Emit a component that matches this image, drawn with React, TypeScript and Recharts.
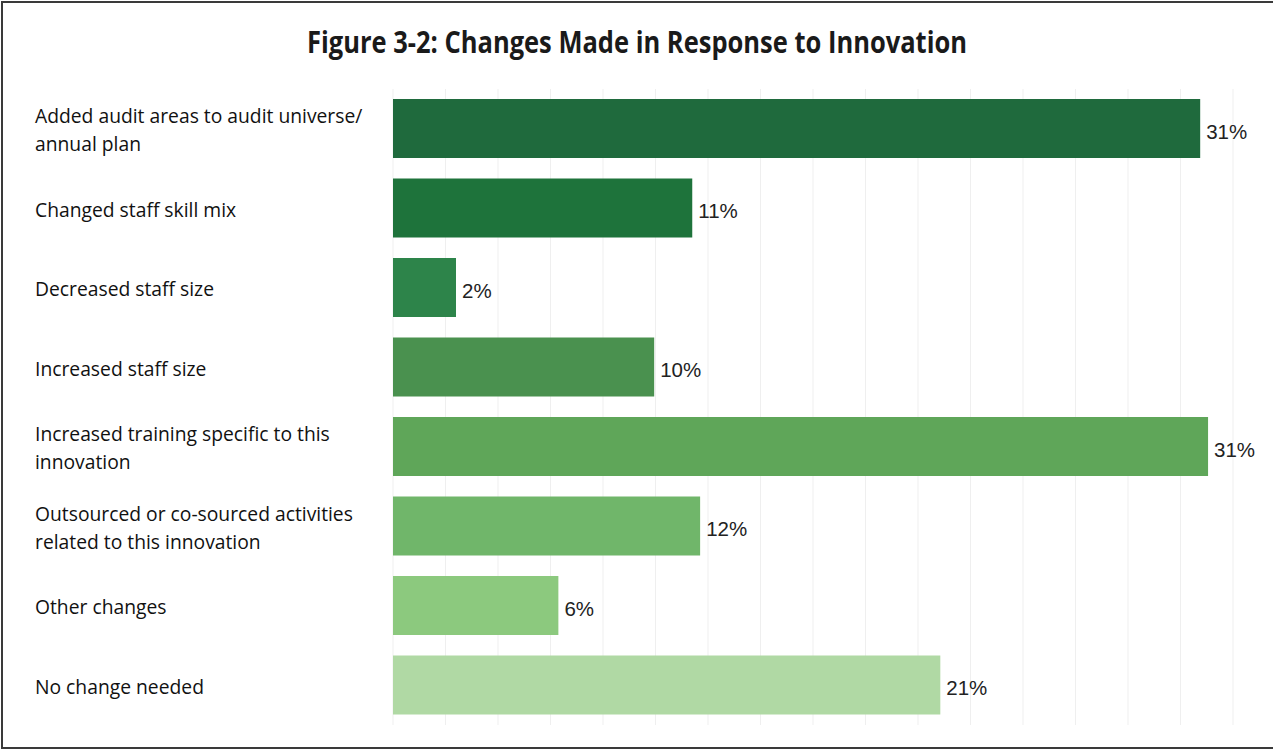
import React from 'react';
import { BarChart, Bar, XAxis, YAxis, CartesianGrid, LabelList, Cell } from 'recharts';

const TITLE = 'Figure 3-2: Changes Made in Response to Innovation';

const categories = [
  'Added audit areas to audit universe/\nannual plan',
  'Changed staff skill mix',
  'Decreased staff size',
  'Increased staff size',
  'Increased training specific to this\ninnovation',
  'Outsourced or co-sourced activities\nrelated to this innovation',
  'Other changes',
  'No change needed',
];

const values = [30.75, 11.4, 2.4, 9.95, 31.05, 11.7, 6.3, 20.85];

const colors = ['#1f6a3d', '#1e733b', '#2d844a', '#4a914f', '#5fa659', '#70b66a', '#8cc97e', '#b0d9a4'];

const gridTicks = [0, 2, 4, 6, 8, 10, 12, 14, 16, 18, 20, 22, 24, 26, 28, 30, 32];
const X_MAX = 32;

const data = categories.map((name, i) => ({ name, value: values[i] }));

const LABEL_LEFT = 35;

const CategoryTick = (props: any) => {
  const { y, payload } = props;
  const lines = String(payload.value).split('\n');
  const lineH = 28;
  const startY = y - ((lines.length - 1) * lineH) / 2 + 1;
  return (
    <text
      x={LABEL_LEFT}
      y={startY}
      textAnchor="start"
      fontFamily="'Open Sans', sans-serif"
      fontSize={19.3}
      fill="#111"
    >
      {lines.map((l, i) => (
        <tspan key={i} x={LABEL_LEFT} y={startY + i * lineH} dominantBaseline="central">
          {l}
        </tspan>
      ))}
    </text>
  );
};

export default function App() {
  return (
    <div style={{ position: 'absolute', left: 0, top: 0, width: 1273, height: 751, background: '#fff', overflow: 'hidden' }}>
      <div
        style={{
          position: 'absolute',
          left: 1,
          top: 1,
          width: 1290,
          height: 748,
          border: '2px solid #3a3a3a',
          boxSizing: 'border-box',
        }}
      />
      <svg style={{ position: 'absolute', left: 0, top: 0 }} width={1273} height={80}>
        <text
          x={637}
          y={53}
          textAnchor="middle"
          fontFamily="'Open Sans', sans-serif"
          fontWeight={700}
          fontSize={31}
          fill="#1a1a1a"
          textLength={660}
          lengthAdjust="spacingAndGlyphs"
        >
          {TITLE}
        </text>
      </svg>
      <div style={{ position: 'absolute', left: 0, top: 0 }}>
        <BarChart
          width={1273}
          height={751}
          data={data}
          layout="vertical"
          margin={{ top: 89, right: 40, bottom: 26, left: 0 }}
          barCategoryGap={20}
        >
          <CartesianGrid
            horizontal={false}
            vertical={true}
            stroke="#efefef"
            strokeWidth={1}
            verticalCoordinatesGenerator={({ offset }: any) =>
              gridTicks.map((t) => offset.left + (t / X_MAX) * offset.width)
            }
          />
          <XAxis
            type="number"
            domain={[0, X_MAX]}
            ticks={gridTicks}
            axisLine={false}
            tickLine={false}
            tick={false}
            height={0}
          />
          <YAxis
            type="category"
            dataKey="name"
            width={393}
            axisLine={false}
            tickLine={false}
            tick={<CategoryTick />}
            interval={0}
          />
          <Bar dataKey="value" barSize={59} isAnimationActive={false}>
            {data.map((d, i) => (
              <Cell key={d.name} fill={colors[i]} />
            ))}
            <LabelList
              dataKey="value"
              position="right"
              offset={6}
              dy={3}
              formatter={(v: any) => `${Math.round(Number(v))}%`}
              fill="#222"
              fontSize={20.5}
              fontFamily="'Liberation Sans', Arial, sans-serif"
            />
          </Bar>
        </BarChart>
      </div>
    </div>
  );
}
